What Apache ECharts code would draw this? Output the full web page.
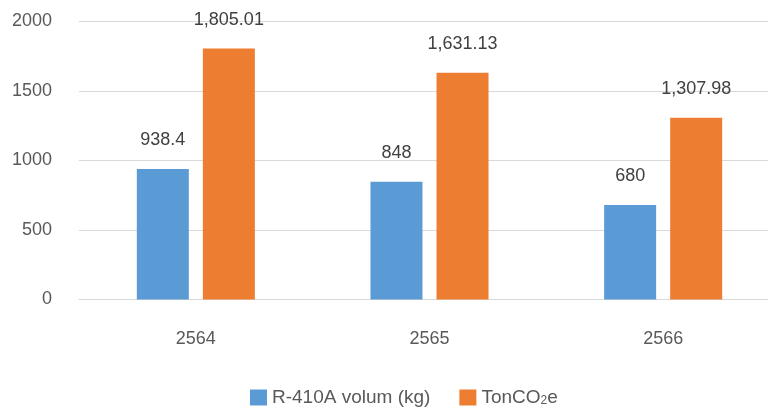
<!DOCTYPE html>
<html>
<head>
<meta charset="utf-8">
<script src="https://cdn.jsdelivr.net/npm/echarts@6/dist/echarts.min.js"></script>
<style>
  html, body { margin: 0; padding: 0; background: #fff; }
  #chart { width: 768px; height: 407px; }
</style>
</head>
<body>
<div id="chart"></div>
<script>
// Years (Thai Buddhist calendar)
const years = ['2564', '2565', '2566'];
// Refrigerant volume in kg
const r410aVolume = [938.4, 848, 680];
// Emissions in tonnes CO2 equivalent
const tonCO2e = [1805.01, 1631.13, 1307.98];
// Value axis ticks
const yMin = 0;
const yMax = 2000;
const yStep = 500;

const FONT = '"Liberation Sans", Arial, sans-serif';

function fmt(v) {
  return v.toLocaleString('en-US', { maximumFractionDigits: 2 });
}

const chart = echarts.init(document.getElementById('chart'), null, { renderer: 'canvas' });

const labelStyle = {
  show: true,
  position: 'top',
  distance: 20,
  fontFamily: FONT,
  fontSize: 18,
  color: '#404040',
  formatter: p => fmt(p.value)
};

chart.setOption({
  animation: false,
  backgroundColor: '#ffffff',
  textStyle: { fontFamily: FONT },
  grid: { left: 79, top: 21.5, width: 701, height: 278, containLabel: false, outerBoundsMode: 'none' },
  xAxis: {
    type: 'category',
    data: years,
    axisLine: { show: true, lineStyle: { color: '#d9d9d9', width: 1 } },
    axisTick: { show: false },
    axisLabel: { fontFamily: FONT, fontSize: 18, color: '#595959', margin: 31 }
  },
  yAxis: {
    type: 'value',
    min: yMin,
    max: yMax,
    interval: yStep,
    axisLine: { show: false },
    axisTick: { show: false },
    axisLabel: { fontFamily: FONT, fontSize: 18, color: '#595959', margin: 27, formatter: v => String(v) },
    splitLine: { lineStyle: { color: '#d9d9d9', width: 1 } }
  },
  legend: {
    top: 383,
    left: 245,
    icon: 'rect',
    itemWidth: 17,
    itemHeight: 16,
    itemGap: 29,
    textStyle: {
      fontFamily: FONT,
      fontSize: 19,
      color: '#595959',
      rich: {
        sub: { fontFamily: FONT, fontSize: 12, color: '#595959', verticalAlign: 'bottom', padding: [7, 0, 0, 0] }
      }
    },
    formatter: name => name === 'TonCO2e' ? 'TonCO{sub|2}e' : name,
    data: ['R-410A volum (kg)', 'TonCO2e']
  },
  series: [
    {
      name: 'R-410A volum (kg)',
      type: 'bar',
      data: r410aVolume,
      barWidth: 52,
      barGap: '27%',
      itemStyle: { color: '#5b9bd5' },
      label: labelStyle
    },
    {
      name: 'TonCO2e',
      type: 'bar',
      data: tonCO2e,
      barWidth: 52,
      barGap: '27%',
      itemStyle: { color: '#ed7d31' },
      label: labelStyle
    }
  ]
});
</script>
</body>
</html>
